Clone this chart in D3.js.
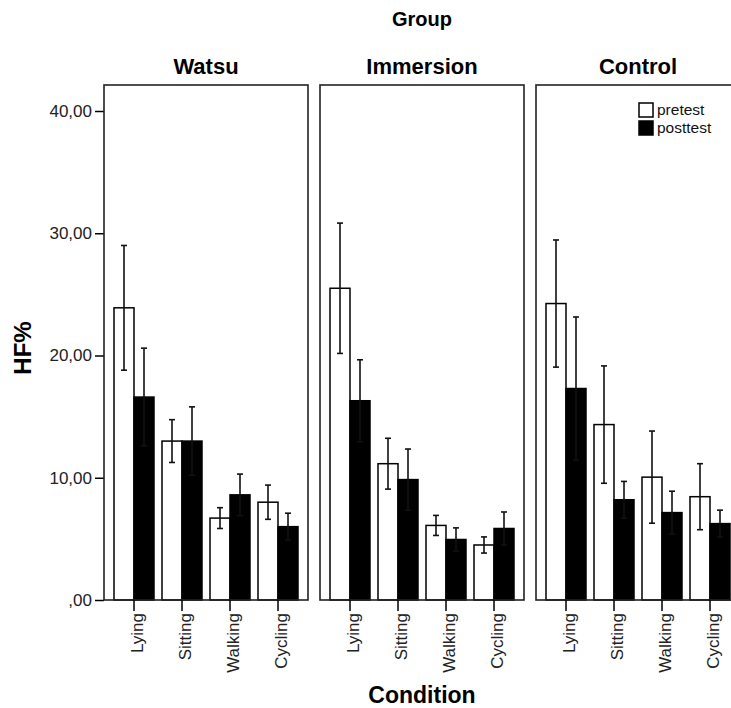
<!DOCTYPE html>
<html>
<head>
<meta charset="utf-8">
<script src="https://cdn.jsdelivr.net/npm/d3@7/dist/d3.min.js"></script>
<style>
  html, body { margin: 0; padding: 0; background: #fff; }
  svg { display: block; font-family: "Liberation Sans", Arial, sans-serif; }
</style>
</head>
<body>
<svg id="chart" width="731" height="708"></svg>
<script>
// ---- data ----
const groups = ["Watsu", "Immersion", "Control"];
const categories = ["Lying", "Sitting", "Walking", "Cycling"];
const series = ["pretest", "posttest"];
const yTicks = [0, 10, 20, 30, 40];
const yTickLabels = [",00", "10,00", "20,00", "30,00", "40,00"];

// means per group (rows) and condition (columns)
const preMeans  = [[23.9, 13.0, 6.7, 8.0], [25.5, 11.15, 6.1, 4.5], [24.25, 14.35, 10.05, 8.45]];
const postMeans = [[16.6, 13.0, 8.6, 6.0], [16.3, 9.85, 4.95, 5.85], [17.3, 8.2, 7.15, 6.25]];
// error bar half-widths
const preErr  = [[5.1, 1.75, 0.85, 1.4], [5.33, 2.08, 0.82, 0.66], [5.2, 4.8, 3.77, 2.7]];
const postErr = [[4.0, 2.8, 1.7, 1.1], [3.35, 2.5, 0.95, 1.35], [5.85, 1.5, 1.75, 1.1]];

// ---- layout ----
const svg = d3.select("#chart");
const plotTop = 85, plotBottom = 600;
const y = d3.scaleLinear().domain([0, 40]).range([plotBottom, 111]);

const panel = d3.scaleBand().domain(groups).range([104, 740]).paddingInner(12 / 216).paddingOuter(0);
const pw = panel.bandwidth();
const xCat = d3.scaleBand().domain(categories).range([6, pw - 6]);
const xSer = d3.scaleBand().domain(series).range([4, xCat.bandwidth() - 4]);

// titles
svg.append("text").attr("x", 422).attr("y", 26).attr("text-anchor", "middle")
  .attr("font-weight", "bold").attr("font-size", 20).text("Group");

svg.append("text").attr("x", 422).attr("y", 703).attr("text-anchor", "middle")
  .attr("font-weight", "bold").attr("font-size", 23).text("Condition");

svg.append("text").attr("transform", "translate(31,348) rotate(-90)").attr("text-anchor", "middle")
  .attr("font-weight", "bold").attr("font-size", 24).text("HF%");

// y axis
const yAxis = d3.axisLeft(y).tickValues(yTicks).tickSize(9).tickPadding(3)
  .tickFormat((d, i) => yTickLabels[i]);
const ya = svg.append("g").attr("transform", "translate(104,0)").call(yAxis);
ya.select(".domain").remove();
ya.selectAll(".tick line").attr("stroke", "#000").attr("stroke-width", 1.5);
ya.selectAll(".tick text").attr("font-size", 17).attr("fill", "#222").attr("font-family", "Liberation Sans, Arial, sans-serif");

groups.forEach((g, gi) => {
  const gx = panel(g);
  const pg = svg.append("g").attr("transform", `translate(${gx},0)`);

  pg.append("text").attr("x", pw / 2).attr("y", 74).attr("text-anchor", "middle")
    .attr("font-weight", "bold").attr("font-size", 22).text(g);

  // bars
  categories.forEach((c, ci) => {
    const cx = xCat(c);
    const vals = [
      {s: "pretest", m: preMeans[gi][ci], e: preErr[gi][ci]},
      {s: "posttest", m: postMeans[gi][ci], e: postErr[gi][ci]}
    ];
    vals.forEach(v => {
      const bx = cx + xSer(v.s);
      pg.append("rect")
        .attr("x", bx).attr("y", y(v.m))
        .attr("width", xSer.bandwidth()).attr("height", y(0) - y(v.m))
        .attr("fill", v.s === "pretest" ? "#fff" : "#000")
        .attr("stroke", "#000").attr("stroke-width", 1.5);
    });
    vals.forEach(v => {
      const ex = cx + xSer(v.s) + xSer.bandwidth() / 2;
      const eb = pg.append("g").attr("stroke", "#111").attr("stroke-width", 1.6);
      eb.append("line").attr("x1", ex).attr("x2", ex).attr("y1", y(v.m - v.e)).attr("y2", y(v.m + v.e));
      eb.append("line").attr("x1", ex - 3).attr("x2", ex + 3).attr("y1", y(v.m - v.e)).attr("y2", y(v.m - v.e));
      eb.append("line").attr("x1", ex - 3).attr("x2", ex + 3).attr("y1", y(v.m + v.e)).attr("y2", y(v.m + v.e));
    });
  });

  // panel frame
  pg.append("rect").attr("x", 0).attr("y", plotTop).attr("width", pw).attr("height", plotBottom - plotTop)
    .attr("fill", "none").attr("stroke", "#222").attr("stroke-width", 1.6);

  // x axis
  const xAxis = d3.axisBottom(d3.scaleBand().domain(categories).range([xCat.range()[0], xCat.range()[1]]))
    .tickSize(11).tickPadding(0);
  const xa = pg.append("g").attr("transform", `translate(0,${plotBottom})`).call(xAxis);
  xa.select(".domain").remove();
  xa.selectAll(".tick line").attr("stroke", "#000").attr("stroke-width", 1.5);
  xa.selectAll(".tick text")
    .attr("font-size", 17).attr("fill", "#222").attr("font-family", "Liberation Sans, Arial, sans-serif")
    .attr("text-anchor", "end")
    .attr("transform", "translate(9,13) rotate(-90)")
    .attr("x", 0).attr("y", 0).attr("dy", 0);

  // legend in last panel
  if (gi === groups.length - 1) {
    const lg = pg.append("g").attr("transform", `translate(${639 - gx},0)`);
    series.forEach((s, si) => {
      const ly = 103 + si * 18;
      lg.append("rect").attr("x", 0).attr("y", ly).attr("width", 14).attr("height", 14)
        .attr("fill", s === "pretest" ? "#fff" : "#000").attr("stroke", "#000").attr("stroke-width", 1.5);
      lg.append("text").attr("x", 18).attr("y", ly + 12).attr("font-size", 15.5).attr("fill", "#111").text(s);
    });
  }
});
</script>
</body>
</html>
